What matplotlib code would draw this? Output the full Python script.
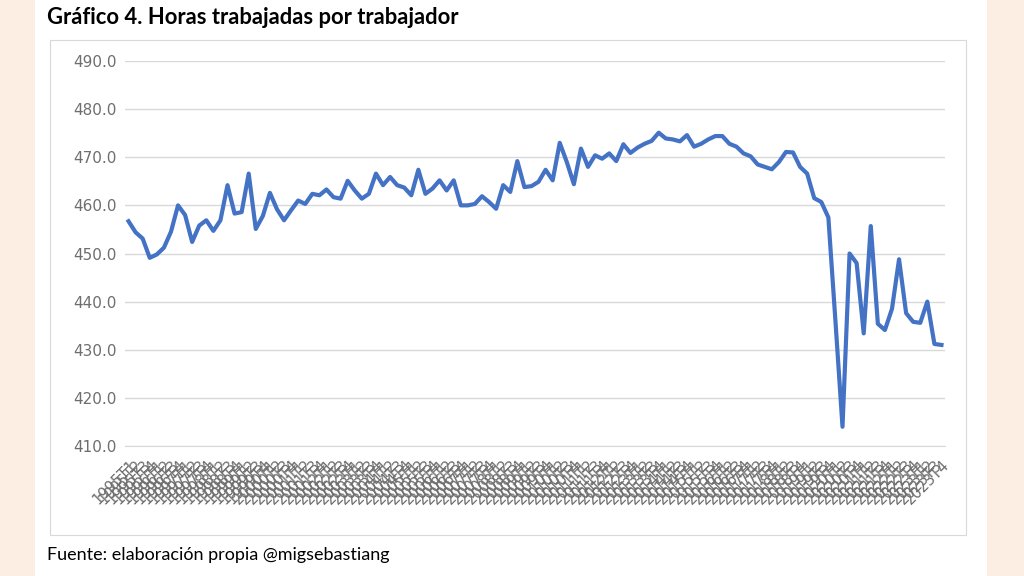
"""
Gráfico 4: horas trabajadas por trabajador (trimestral)
"""
import matplotlib.pyplot as plt
from matplotlib.patches import Rectangle
from matplotlib.ticker import FormatStrFormatter

YEARS = list(range(1995, 2024))
QUARTERS = ["T1", "T2", "T3", "T4"]
LABELS = [f"{y}{q}" for y in YEARS for q in QUARTERS]

HOURS = [
    456.7, 454.4, 453.1, 449.1, 449.8, 451.2, 454.5, 460.0, 458.0, 452.4,
    455.8, 456.9, 454.7, 456.9, 464.2, 458.3, 458.6, 466.6, 455.1, 457.8,
    462.6, 459.2, 456.9, 459.0, 461.0, 460.3, 462.4, 462.1, 463.3, 461.7,
    461.4, 465.1, 463.1, 461.4, 462.4, 466.6, 464.2, 465.9, 464.2, 463.7,
    462.1, 467.4, 462.4, 463.5, 465.2, 463.1, 465.2, 460.0, 460.0, 460.3,
    461.9, 460.7, 459.3, 464.2, 462.8, 469.2, 463.8, 464.0, 464.9, 467.4,
    465.2, 473.0, 469.0, 464.4, 471.8, 468.0, 470.4, 469.7, 470.8, 469.2,
    472.7, 470.9, 472.0, 472.8, 473.4, 475.1, 473.9, 473.7, 473.3, 474.6,
    472.2, 472.8, 473.7, 474.4, 474.4, 472.8, 472.2, 470.8, 470.2, 468.5,
    468.0, 467.5, 469.0, 471.1, 471.0, 468.0, 466.6, 461.5, 460.7, 457.5,
    436.0, 414.0, 450.0, 448.0, 433.4, 455.7, 435.4, 434.1, 438.5, 448.8,
    437.6, 435.8, 435.6, 440.0, 431.2, 431.0,
]

PEACH = "#FCEEE3"
GRID = "#D9D9D9"
TEXT_GRAY = "#6E6E6E"
BLUE = "#4472C4"

fig = plt.figure(figsize=(10.24, 5.76), dpi=100)
fig.patch.set_facecolor("white")

# bandas laterales color melocotón
fig.patches.append(Rectangle((0, 0), 35 / 1024, 1, transform=fig.transFigure,
                             facecolor=PEACH, edgecolor="none", zorder=0))
fig.patches.append(Rectangle((987 / 1024, 0), 37 / 1024, 1, transform=fig.transFigure,
                             facecolor=PEACH, edgecolor="none", zorder=0))
# marco del gráfico
fig.patches.append(Rectangle((50 / 1024, 1 - 535 / 576), 916 / 1024, 495 / 576,
                             transform=fig.transFigure, facecolor="none",
                             edgecolor=GRID, linewidth=0.8, zorder=1))

ax = fig.add_axes([125 / 1024, 1 - 446 / 576, 820 / 1024, 385 / 576])
ax.set_facecolor("none")

x = list(range(len(HOURS)))
ax.plot(x, HOURS, color=BLUE, linewidth=3.0, solid_joinstyle="round", zorder=3)

ax.set_xlim(-0.5, len(HOURS) - 0.5)
ax.set_ylim(410, 490)
ax.set_yticks(range(410, 491, 10))
ax.yaxis.set_major_formatter(FormatStrFormatter("%.1f"))
ax.grid(axis="y", color=GRID, linewidth=1)
ax.set_axisbelow(True)

for side in ["left", "right", "top"]:
    ax.spines[side].set_visible(False)
ax.spines["bottom"].set_color(GRID)

ax.tick_params(axis="y", length=0, pad=6, labelsize=11, labelcolor=TEXT_GRAY)
ax.tick_params(axis="x", length=0, pad=8)
ax.set_xticks(x)
ax.set_xticklabels(LABELS, rotation=45, ha="right", va="top",
                   rotation_mode="anchor", fontsize=10.5, color=TEXT_GRAY)

fig.text(47 / 1024, 1 - 18 / 576, "Gráfico 4. Horas trabajadas por trabajador",
         fontsize=15.8, fontweight="bold", family="Lato", ha="left", va="center")
fig.text(47 / 1024, 1 - 555 / 576, "Fuente: elaboración propia @migsebastiang",
         fontsize=13, family="Lato", ha="left", va="center")

fig.savefig("out.png", dpi=100)
